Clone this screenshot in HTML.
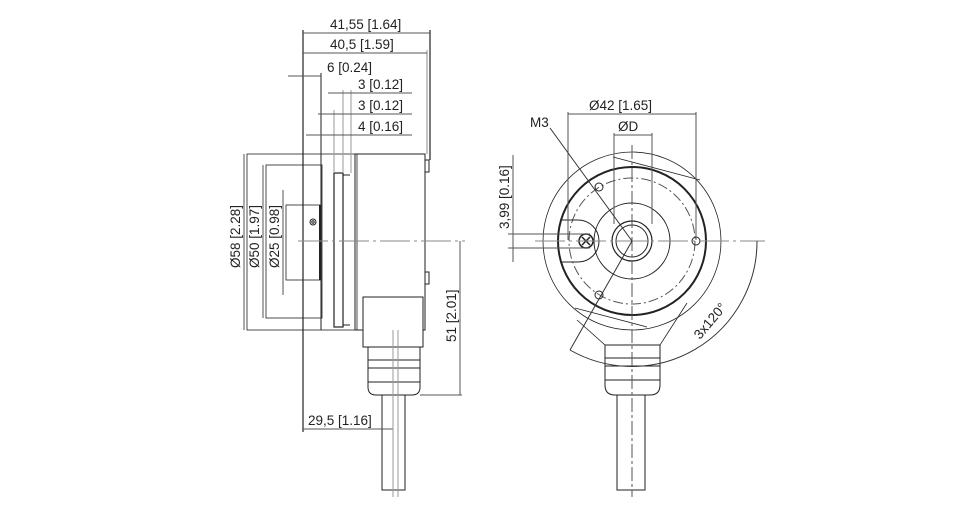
<!DOCTYPE html>
<html><head><style>body{margin:0;background:#fff}svg{display:block}text{font-family:"Liberation Sans",sans-serif;font-size:13.5px;fill:#222}</style></head><body>
<svg width="953" height="511" viewBox="0 0 953 511" xmlns="http://www.w3.org/2000/svg">
<g fill="none" stroke="#222" stroke-width="1">
<rect x="247" y="154" width="110" height="176" stroke-width="0.8"/>
<rect x="266" y="165" width="56" height="153" stroke-width="0.8"/>
<rect x="286" y="205" width="34" height="75" stroke-width="0.8"/>
<line x1="320" y1="205" x2="320" y2="280" stroke-width="2"/>
<rect x="334" y="173" width="9" height="154" stroke-width="1.2"/>
<line x1="343" y1="175" x2="350" y2="175"/><line x1="343" y1="325" x2="350" y2="325"/>
<rect x="355" y="154" width="70" height="176" stroke-width="1"/>
<rect x="425" y="160" width="4" height="12"/><rect x="425" y="272" width="4" height="12"/>
<circle cx="313" cy="222" r="3"/><circle cx="313" cy="222" r="1.2"/>
<rect x="363" y="297" width="60" height="50" fill="#fff"/>
<rect x="368" y="347" width="52" height="13"/>
<rect x="368" y="360" width="52" height="8"/>
<rect x="368" y="368" width="52" height="14"/>
<path d="M368 382 v5 q0 8 8 8 h36 q8 0 8 -8 v-5"/>
<rect x="382" y="395" width="23" height="95"/>
<line x1="303" y1="30" x2="303" y2="432" stroke-width="1.2"/>
<line x1="430" y1="30" x2="430" y2="160" stroke-width="1.2"/>
<line x1="427" y1="50" x2="427" y2="154" stroke="#888"/>
<line x1="321" y1="73" x2="321" y2="330"/>
<line x1="334" y1="110" x2="334" y2="173" stroke="#999"/><line x1="343" y1="90" x2="343" y2="173" stroke="#999"/><line x1="351" y1="90" x2="351" y2="173" stroke="#999"/>
<line x1="303" y1="33" x2="430" y2="33" stroke="#555"/>
<line x1="303" y1="53" x2="427" y2="53" stroke="#555"/>
<line x1="288" y1="76" x2="321" y2="76" stroke="#555"/>
<line x1="328" y1="93" x2="412" y2="93" stroke="#555"/>
<line x1="318" y1="114" x2="412" y2="114" stroke="#555"/>
<line x1="306" y1="135" x2="412" y2="135" stroke="#555"/>
<line x1="303" y1="429" x2="393" y2="429" stroke="#555"/>
<line x1="460" y1="241" x2="460" y2="395" stroke="#555"/>
<line x1="420" y1="395" x2="462" y2="395" stroke="#555"/>
<line x1="244" y1="154" x2="244" y2="330" stroke="#555"/>
<line x1="263" y1="165" x2="263" y2="318" stroke="#555"/>
<line x1="283" y1="190" x2="283" y2="295" stroke="#555"/>
<line x1="298" y1="241" x2="465" y2="241" stroke="#888" stroke-dasharray="30 4 3 4"/>
<line x1="393" y1="330" x2="393" y2="497" stroke="#999"/><line x1="398" y1="330" x2="398" y2="497" stroke="#999"/>
<circle cx="632" cy="241" r="89" stroke-width="0.8"/>
<circle cx="632" cy="241" r="74" stroke-width="2"/>
<circle cx="632" cy="241" r="63" stroke="#555" stroke-dasharray="10 3 2 3"/>
<circle cx="632" cy="241" r="38"/>
<circle cx="632" cy="241" r="20" stroke-width="1.2"/>
<circle cx="632" cy="241" r="16"/>
<circle cx="599" cy="187" r="4"/><circle cx="696" cy="241" r="4"/><circle cx="599" cy="295" r="4"/>
<path d="M560 220 h18 a20 20 0 0 1 0 42 h-18"/>
<circle cx="586" cy="241" r="7" stroke-width="1.5"/>
<path d="M582 237 l8 8 M590 237 l-8 8" stroke-width="1.5"/>
<path d="M613 157 L700 180 M575 308 L647 327" stroke-width="0.8"/>
<path d="M577 320 L605 345 H660 L687 303" stroke-width="0.8"/>
<rect x="605" y="345" width="55" height="13"/>
<rect x="605" y="358" width="55" height="8"/>
<rect x="605" y="366" width="55" height="14"/>
<path d="M605 380 v5 q0 10 10 10 h35 q10 0 10 -10 v-5"/>
<rect x="617" y="395" width="28" height="95"/>
<line x1="614" y1="133" x2="614" y2="224" stroke="#555"/>
<line x1="652" y1="133" x2="652" y2="224" stroke="#555"/>
<line x1="614" y1="135" x2="652" y2="135" stroke="#555"/>
<line x1="568" y1="112" x2="568" y2="240" stroke="#555"/>
<line x1="696" y1="112" x2="696" y2="240" stroke="#555"/>
<line x1="568" y1="114" x2="696" y2="114" stroke="#555"/>
<line x1="632" y1="145" x2="632" y2="497" stroke="#555" stroke-dasharray="14 3 3 3"/>
<line x1="535" y1="241" x2="765" y2="241" stroke="#888" stroke-dasharray="30 4 3 4"/>
<line x1="513" y1="155" x2="513" y2="262" stroke="#555"/>
<line x1="508" y1="234" x2="590" y2="234" stroke="#555"/>
<line x1="508" y1="248" x2="590" y2="248" stroke="#555"/>
<path d="M550 128 L632 241 L570 350" stroke="#333"/>
<path d="M757 241 A125 125 0 0 1 570 350" stroke="#333"/>
</g>
<text x="330" y="29">41,55 [1.64]</text>
<text x="330" y="49">40,5 [1.59]</text>
<text x="327" y="72">6 [0.24]</text>
<text x="358" y="89">3 [0.12]</text>
<text x="358" y="110">3 [0.12]</text>
<text x="358" y="131">4 [0.16]</text>
<text x="308" y="425">29,5 [1.16]</text>
<text x="589" y="110">Ø42 [1.65]</text>
<text x="618" y="131">ØD</text>
<text x="530" y="127">M3</text>
<text transform="translate(240,268) rotate(-90)">Ø58 [2.28]</text>
<text transform="translate(259,268) rotate(-90)">Ø50 [1.97]</text>
<text transform="translate(279,268) rotate(-90)">Ø25 [0.98]</text>
<text transform="translate(456,342) rotate(-90)">51 [2.01]</text>
<text transform="translate(509,229) rotate(-90)">3,99 [0.16]</text>
<text transform="translate(700,340) rotate(-50)">3x120°</text>
</svg>
</body></html>
